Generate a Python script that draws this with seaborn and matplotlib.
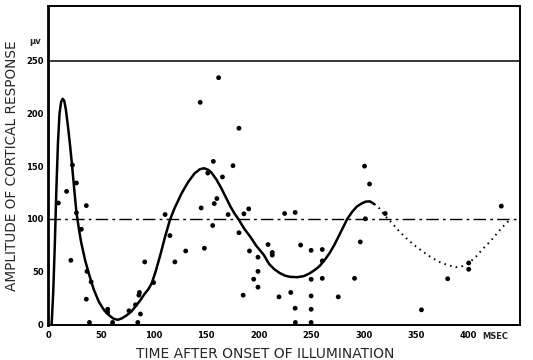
import numpy as np
import pandas as pd
import matplotlib
matplotlib.use('Agg')
import matplotlib.pyplot as plt
import matplotlib.transforms as mtransforms
import seaborn as sns

# measured responses (msec, microvolts)
pts_x = [9.4, 17.2, 22.8, 26.6, 21.3, 26.6, 31.3, 36, 36.6, 40.6, 36, 56.3, 56.3,
         76.6, 82.8, 86, 86.6, 87.5, 91.6, 100, 111, 115.6, 120.3, 130.6, 144.4,
         145.3, 148.4, 151.6, 156.3, 156.9, 157.8, 160.3, 161.9, 165.6, 171, 175.6,
         181.3, 181.3, 186, 190.6, 185.3, 191.3, 195.3,
         199.4, 199.4, 199.4, 209, 213, 213, 224.8, 234.8, 219.4, 230.6, 234.8,
         240, 250, 260.6, 260.6, 250, 260.6, 250, 250, 250, 275.8, 291.3, 296.8,
         301.6, 320.5, 300.8, 305.6,
         355, 380, 400, 400, 431,
         39, 61, 85, 235]
pts_y = [115, 126, 151, 134, 60.5, 105.6, 90, 112.5, 50, 40, 23.6, 14, 11,
         12.6, 18.3, 27.4, 30, 9.5, 59, 39.4, 104, 84, 59, 69.4, 210.6,
         110.3, 72, 143.4, 93.6, 154.5, 114.4, 119.2, 234, 139.7, 104, 150.4,
         186, 86.7, 104.7, 109.4, 27.4, 69.4, 42.6,
         63.5, 50, 35, 75.5, 68, 65.5, 105, 106, 25.8, 30, 15,
         75, 70, 70.8, 60, 42.5, 43.4, 26.7, 14, 1.5, 25.8, 43.4, 78,
         100, 105, 150, 133,
         13.5, 43, 52, 58, 112,
         1.5, 1.5, 1.5, 1.5]

# fitted curve, solid part
fit_x = [3, 4.5, 6, 7.5, 9, 10.5, 12, 13.5, 15, 16.5, 18.5, 20.5, 22.5, 24.5, 26.6,
         29, 31, 35, 39, 43, 48, 53, 58, 62, 66, 70, 74, 79, 83, 87, 91, 95, 98.4,
         102, 106, 111, 115.6, 120, 126.6, 133, 139, 144, 148, 152, 155, 160, 164,
         168, 173, 177, 181, 186, 192, 198, 204.7, 210, 215, 220, 225, 230, 237,
         243, 248, 253, 258, 263, 267.7, 272, 277, 281, 284.5, 289, 293.5, 298,
         302, 306, 310]
fit_y = [0, 30, 75, 128, 172, 200, 211, 214, 212, 204, 188, 170, 150, 128, 106,
         90, 78, 60, 46, 33, 21, 13, 8, 5, 4, 5.5, 8, 12, 17, 22, 28, 33, 39,
         50, 64, 83, 99, 110, 124, 135, 143, 147, 148, 146.5, 144, 137, 130,
         122, 112, 105, 99.4, 91, 83, 74, 66, 57, 52, 48.5, 46, 44.8, 44.5,
         45.5, 47.8, 51, 55, 61, 67.6, 75, 85, 93, 100, 106.5, 111.6, 114.5,
         116.3, 116.5, 114]

# extrapolated part (dotted)
ext_x = [310, 314, 318, 322, 326, 332, 340, 348, 356, 364, 372, 380, 388, 394,
         400, 406, 413, 420, 426, 432, 437, 441]
ext_y = [114, 111, 106, 101, 97, 90, 82, 75, 69, 63.5, 59, 56, 54, 55,
         58, 63, 71, 78, 85, 92, 97, 100]

x_ticks = [0, 50, 100, 150, 200, 250, 300, 350, 400]
y_ticks = [0, 50, 100, 150, 200, 250]

sns.set_theme(style='white')
plt.rcParams['font.family'] = ['DejaVu Sans']

fig = plt.figure(figsize=(5.33, 3.6), dpi=100)
ax = fig.add_axes([0.09, 0.097, 0.886, 0.886])

pts = pd.DataFrame({'t': pts_x, 'amp': pts_y})
fit = pd.DataFrame({'t': fit_x, 'amp': fit_y})
ext = pd.DataFrame({'t': ext_x, 'amp': ext_y})

ax.axhline(250, color='black', lw=1.1)
ax.axhline(100, color='black', lw=1.0, linestyle=(0, (9, 3, 2, 3)))

sns.lineplot(data=fit, x='t', y='amp', ax=ax, color='black', lw=1.8, sort=False)
sns.lineplot(data=ext, x='t', y='amp', ax=ax, color='black', lw=1.4,
             linestyle=(0, (0.8, 2.2)), sort=False)
sns.scatterplot(data=pts, x='t', y='amp', ax=ax, color='black', s=12,
                edgecolor='none', zorder=5)

ax.set_xlim(-0.5, 449)
ax.set_ylim(-1, 302)
ax.set_xticks(x_ticks)
ax.set_xticklabels([str(v) for v in x_ticks], fontsize=6, fontweight='bold')
ax.set_yticks(y_ticks)
ax.set_yticklabels([str(v) for v in y_ticks], fontsize=6, fontweight='bold')
ax.tick_params(axis='x', direction='in', length=4, width=1, pad=4, colors='black')
ax.tick_params(axis='y', direction='out', length=2, width=1, pad=1, colors='black')

for s in ax.spines.values():
    s.set_color('black')
    s.set_linewidth(1.4)
ax.spines['left'].set_linewidth(2)

ax.set_xlabel('TIME AFTER ONSET OF ILLUMINATION', fontsize=10)
ax.xaxis.set_label_coords(0.46, -0.07)
ax.set_ylabel('AMPLITUDE OF CORTICAL RESPONSE', fontsize=9.8)
ax.yaxis.set_label_coords(-0.062, 0.5)

tr = mtransforms.blended_transform_factory(ax.transAxes, ax.transData)
ax.text(-0.015, 268, 'µv', transform=tr, ha='right', va='center', fontsize=6,
        fontweight='bold')
tr2 = mtransforms.blended_transform_factory(ax.transData, ax.transAxes)
ax.text(425, -0.022, 'MSEC', transform=tr2, ha='center', va='top', fontsize=6,
        fontweight='bold')

fig.savefig('out.png', dpi=100, facecolor='white')
